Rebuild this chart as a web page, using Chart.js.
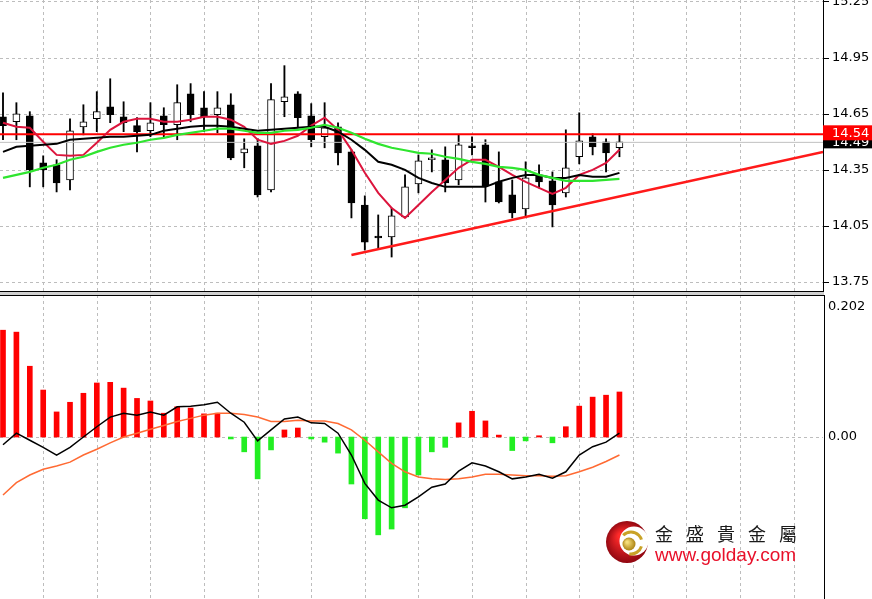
<!DOCTYPE html>
<html>
<head>
<meta charset="utf-8">
<script src="https://cdn.jsdelivr.net/npm/chart.js@4.4.0/dist/chart.umd.min.js"></script>
<style>
  body { margin: 0; background: #fff; width: 872px; height: 599px; overflow: hidden; position: relative; }
  #price-chart { position: absolute; left: 0; top: 0; }
  #macd-chart { position: absolute; left: 0; top: 295px; }
  #split { position: absolute; left: 0; top: 292px; width: 824px; height: 3px; background: #cfcfcf; }
  #logo-cn { position: absolute; left: 655px; top: 522px; font-family: "Noto Sans CJK TC", sans-serif; font-size: 18px; line-height: 22px; letter-spacing: 13px; color: #1a1a1a; white-space: nowrap; }
  #logo-url { position: absolute; left: 655px; top: 545px; font-family: "Liberation Sans", Arial, sans-serif; font-size: 19px; line-height: 20px; color: #e8102a; white-space: nowrap; }
</style>
</head>
<body>
<canvas id="price-chart" width="872" height="292"></canvas>
<div id="split"></div>
<canvas id="macd-chart" width="872" height="304"></canvas>
<div id="logo-cn">金盛貴金屬</div>
<div id="logo-url">www.golday.com</div>
<script>
// candles, oldest first
const opens  = [14.634, 14.607, 14.639, 14.388, 14.377, 14.296, 14.580, 14.623, 14.687, 14.634, 14.586, 14.559, 14.639, 14.591, 14.757, 14.682, 14.645, 14.698, 14.441, 14.479, 14.243, 14.714, 14.757, 14.639, 14.527, 14.580, 14.446, 14.162, 13.996, 13.991, 14.098, 14.275, 14.404, 14.404, 14.296, 14.479, 14.484, 14.286, 14.216, 14.141, 14.318, 14.291, 14.227, 14.420, 14.527, 14.500, 14.468];
const highs  = [14.762, 14.709, 14.661, 14.425, 14.404, 14.623, 14.698, 14.768, 14.837, 14.714, 14.629, 14.709, 14.682, 14.805, 14.811, 14.768, 14.768, 14.757, 14.516, 14.516, 14.811, 14.907, 14.768, 14.704, 14.709, 14.602, 14.457, 14.211, 14.109, 14.146, 14.323, 14.430, 14.457, 14.473, 14.537, 14.527, 14.511, 14.446, 14.296, 14.393, 14.377, 14.339, 14.564, 14.655, 14.543, 14.516, 14.543];
const lows   = [14.511, 14.511, 14.259, 14.259, 14.232, 14.243, 14.537, 14.554, 14.602, 14.554, 14.446, 14.527, 14.527, 14.511, 14.607, 14.554, 14.548, 14.404, 14.361, 14.205, 14.232, 14.634, 14.575, 14.473, 14.468, 14.377, 14.093, 13.921, 13.932, 13.884, 14.093, 14.227, 14.339, 14.232, 14.270, 14.430, 14.178, 14.173, 14.093, 14.098, 14.254, 14.045, 14.205, 14.382, 14.430, 14.339, 14.420];
const closes = [14.586, 14.650, 14.350, 14.350, 14.280, 14.559, 14.607, 14.661, 14.645, 14.602, 14.554, 14.602, 14.591, 14.709, 14.645, 14.634, 14.682, 14.414, 14.462, 14.216, 14.725, 14.741, 14.629, 14.511, 14.575, 14.441, 14.173, 13.964, 13.986, 14.104, 14.259, 14.398, 14.414, 14.280, 14.484, 14.468, 14.264, 14.178, 14.120, 14.307, 14.286, 14.162, 14.361, 14.505, 14.473, 14.441, 14.500];

// moving averages
const maFast = [14.602, 14.580, 14.575, 14.500, 14.430, 14.425, 14.430, 14.495, 14.564, 14.607, 14.623, 14.623, 14.607, 14.607, 14.618, 14.634, 14.634, 14.618, 14.580, 14.511, 14.489, 14.505, 14.532, 14.586, 14.629, 14.564, 14.457, 14.334, 14.227, 14.146, 14.093, 14.162, 14.232, 14.296, 14.361, 14.404, 14.404, 14.366, 14.323, 14.286, 14.254, 14.221, 14.254, 14.323, 14.350, 14.387, 14.457];
const maMid  = [14.446, 14.473, 14.479, 14.484, 14.489, 14.511, 14.516, 14.521, 14.527, 14.527, 14.532, 14.537, 14.559, 14.570, 14.580, 14.586, 14.586, 14.580, 14.570, 14.559, 14.564, 14.570, 14.575, 14.580, 14.580, 14.554, 14.511, 14.457, 14.393, 14.377, 14.350, 14.307, 14.280, 14.259, 14.259, 14.259, 14.259, 14.286, 14.307, 14.323, 14.323, 14.307, 14.307, 14.323, 14.313, 14.313, 14.334];
const maSlow = [14.307, 14.323, 14.339, 14.361, 14.377, 14.404, 14.420, 14.446, 14.468, 14.484, 14.495, 14.511, 14.521, 14.537, 14.548, 14.559, 14.570, 14.570, 14.559, 14.548, 14.548, 14.559, 14.564, 14.575, 14.591, 14.575, 14.548, 14.516, 14.489, 14.468, 14.455, 14.441, 14.436, 14.420, 14.409, 14.393, 14.382, 14.366, 14.361, 14.350, 14.323, 14.307, 14.291, 14.291, 14.291, 14.296, 14.302];

// macd panel
const macdHist   = [0.166, 0.163, 0.110, 0.073, 0.039, 0.054, 0.068, 0.084, 0.085, 0.076, 0.060, 0.056, 0.037, 0.047, 0.045, 0.036, 0.037, -0.003, -0.023, -0.065, -0.020, 0.011, 0.014, -0.003, -0.008, -0.025, -0.073, -0.127, -0.152, -0.143, -0.110, -0.059, -0.023, -0.016, 0.022, 0.040, 0.025, 0.003, -0.021, -0.006, 0.002, -0.009, 0.016, 0.048, 0.062, 0.065, 0.070];
const macdLine   = [-0.012, 0.006, -0.005, -0.016, -0.028, -0.016, 0.000, 0.016, 0.031, 0.037, 0.034, 0.039, 0.034, 0.047, 0.048, 0.050, 0.054, 0.037, 0.023, -0.006, 0.011, 0.028, 0.031, 0.022, 0.021, 0.006, -0.028, -0.072, -0.098, -0.110, -0.106, -0.093, -0.078, -0.073, -0.053, -0.040, -0.045, -0.054, -0.065, -0.062, -0.058, -0.064, -0.054, -0.028, -0.015, -0.008, 0.006];
const signalLine = [-0.090, -0.071, -0.059, -0.050, -0.045, -0.039, -0.028, -0.019, -0.009, 0.000, 0.006, 0.012, 0.018, 0.024, 0.029, 0.034, 0.037, 0.037, 0.035, 0.031, 0.024, 0.024, 0.026, 0.025, 0.025, 0.021, 0.011, -0.005, -0.023, -0.041, -0.054, -0.062, -0.065, -0.066, -0.065, -0.062, -0.058, -0.058, -0.059, -0.060, -0.060, -0.061, -0.060, -0.054, -0.047, -0.038, -0.028];

// levels
const resistance = 14.54;
const bidPrice = 14.497;
const bidLabel = '14.49';
const trendFrom = [26, 13.895];
const trendTo = [61.19, 14.446];

// axes
const priceTicks = [13.75, 14.05, 14.35, 14.65, 14.95, 15.25];
const priceTickLabels = ['13.75', '14.05', '14.35', '14.65', '14.95', '15.25'];
const macdTicks = [0, 0.202];
const macdTickLabels = ['0.00', '0.202'];
const macdGridRows = [0];
const gridSlots = [3, 7, 11, 15, 19, 23, 27, 31, 35, 39, 43, 47, 51, 55, 59];

const xMin = -0.224, xMax = 61.19;
const priceMin = 13.697, priceMax = 15.258;
const macdMin = -0.2517, macdMax = 0.2207;

const gridColor = '#bdbdbd';
const axisFont = { family: 'DejaVu Sans', size: 13 };

const pts = arr => arr.map((v, i) => ({ x: i, y: v }));
const bull = opens.map((o, i) => closes[i] >= o);

function xScale() {
    return {
        type: 'linear', min: xMin, max: xMax, offset: false,
        ticks: { display: false },
        grid: { display: false, drawTicks: false },
        border: { display: false },
        afterBuildTicks: s => { s.ticks = gridSlots.map(v => ({ value: v })); },
        afterFit: s => { s.height = 0; }
    };
}

function yScale(min, max, ticks, labels, pad) {
    return {
        position: 'right', min, max,
        afterBuildTicks: s => { s.ticks = ticks.map(v => ({ value: v })); },
        ticks: { callback: (v, i) => labels[i], color: '#000', font: axisFont, padding: pad, autoSkip: false },
        grid: { display: false, drawTicks: false },
        border: { display: false },
        afterFit: s => { s.width = 49; s.paddingTop = 0; s.paddingBottom = 0; }
    };
}

function lineSet(data, color, width) {
    return { type: 'line', data, borderColor: color, borderWidth: width, pointRadius: 0, tension: 0, order: 0 };
}

// dashed MT4 style grid, drawn from the scales' own ticks
const dashGrid = {
    id: 'dashGrid',
    beforeDatasetsDraw(chart, args, opts) {
        const { ctx, chartArea: a, scales: { x, y } } = chart;
        ctx.save();
        ctx.strokeStyle = gridColor;
        ctx.lineWidth = 1;
        ctx.setLineDash([3, 3]);
        ctx.beginPath();
        x.ticks.forEach(t => {
            const px = Math.round(x.getPixelForValue(t.value)) + 0.5;
            ctx.moveTo(px, a.top);
            ctx.lineTo(px, a.bottom);
        });
        y.ticks.filter(t => opts.rows.includes(t.value)).forEach(t => {
            const py = Math.round(y.getPixelForValue(t.value)) + 0.5;
            ctx.moveTo(a.left, py);
            ctx.lineTo(a.right, py);
        });
        ctx.stroke();
        if (opts.tickMarks) {
            ctx.setLineDash([]);
            ctx.strokeStyle = '#000';
            ctx.beginPath();
            y.ticks.forEach(t => {
                const py = Math.round(y.getPixelForValue(t.value)) + 0.5;
                ctx.moveTo(a.right, py);
                ctx.lineTo(a.right + 6, py);
            });
            ctx.stroke();
        }
        ctx.restore();
    }
};

function tag(ctx, y, text, fill, h) {
    ctx.fillStyle = fill;
    ctx.fillRect(823, y - h / 2, 49, h);
    ctx.fillStyle = '#fff';
    ctx.font = '13px "DejaVu Sans"';
    ctx.textBaseline = 'middle';
    ctx.fillText(text, 832, y + 0.5);
}

const priceFrame = {
    id: 'priceFrame',
    afterDraw(chart) {
        const { ctx, chartArea, scales } = chart;
        ctx.save();
        ctx.strokeStyle = '#000';
        ctx.lineWidth = 1;
        ctx.beginPath();
        ctx.moveTo(chartArea.right + 0.5, 0);
        ctx.lineTo(chartArea.right + 0.5, chartArea.bottom);
        ctx.moveTo(0, chartArea.bottom - 0.5);
        ctx.lineTo(chartArea.right + 1, chartArea.bottom - 0.5);
        ctx.stroke();
        tag(ctx, scales.y.getPixelForValue(bidPrice), bidLabel, '#000', 12);
        tag(ctx, scales.y.getPixelForValue(resistance) - 1.5, resistance.toFixed(2), '#ff0000', 15);
        ctx.restore();
    }
};

const macdFrame = {
    id: 'macdFrame',
    afterDraw(chart) {
        const { ctx, chartArea } = chart;
        ctx.save();
        ctx.strokeStyle = '#000';
        ctx.lineWidth = 1;
        ctx.beginPath();
        ctx.moveTo(0, 0.5);
        ctx.lineTo(chartArea.right + 1.5, 0.5);
        ctx.moveTo(chartArea.right + 1.5, 0);
        ctx.lineTo(chartArea.right + 1.5, chartArea.bottom);
        ctx.stroke();

        // golday logo mark
        const cx = 627, cy = 247;
        let g = ctx.createRadialGradient(cx - 6, cy - 6, 3, cx, cy, 22);
        g.addColorStop(0, '#ff2a2a');
        g.addColorStop(1, '#8c0610');
        ctx.fillStyle = g;
        ctx.beginPath(); ctx.arc(cx, cy, 21, 0, Math.PI * 2); ctx.fill();
        ctx.fillStyle = '#fff';
        ctx.beginPath(); ctx.arc(cx + 7, cy - 1, 14.5, 0, Math.PI * 2); ctx.fill();
        ctx.strokeStyle = '#c9a227';
        ctx.lineWidth = 3;
        ctx.beginPath(); ctx.arc(cx + 4, cy + 1, 11, -Math.PI * 0.75, -Math.PI * 0.1); ctx.stroke();
        ctx.beginPath(); ctx.arc(cx + 4, cy + 1, 11, Math.PI * 0.1, Math.PI * 0.55); ctx.stroke();
        g = ctx.createRadialGradient(cx, cy, 1, cx + 2, cy + 2, 7);
        g.addColorStop(0, '#f6df7a');
        g.addColorStop(1, '#a67c0c');
        ctx.fillStyle = g;
        ctx.beginPath(); ctx.arc(cx + 2, cy + 2, 6.5, 0, Math.PI * 2); ctx.fill();
        ctx.restore();
    }
};

new Chart(document.getElementById('price-chart'), {
    type: 'bar',
    data: {
        datasets: [
            lineSet(pts(maSlow), '#2fe52f', 2.2),
            lineSet(pts(maMid), '#000', 2),
            lineSet(pts(maFast), '#dc143c', 2),
            lineSet([{ x: xMin, y: bidPrice }, { x: xMax, y: bidPrice }], '#c0c0c0', 1),
            lineSet([{ x: xMin, y: resistance }, { x: xMax, y: resistance }], '#ff0000', 2),
            lineSet([{ x: trendFrom[0], y: trendFrom[1] }, { x: trendTo[0], y: trendTo[1] }], '#ff1a1a', 2.5),
            {
                label: 'body',
                data: opens.map((o, i) => ({ x: i, y: [o, closes[i]] })),
                backgroundColor: bull.map(b => b ? '#fff' : '#000'),
                borderColor: '#000',
                borderWidth: 1,
                borderSkipped: false,
                barThickness: 7,
                grouped: false,
                order: 1
            },
            {
                label: 'wick',
                data: lows.map((l, i) => ({ x: i, y: [l, highs[i]] })),
                backgroundColor: '#000',
                borderWidth: 0,
                barThickness: 1.2,
                grouped: false,
                order: 2
            }
        ]
    },
    options: {
        responsive: false,
        animation: false,
        devicePixelRatio: 1,
        layout: { padding: 0 },
        plugins: {
            legend: { display: false },
            tooltip: { enabled: false },
            dashGrid: { rows: priceTicks, tickMarks: true }
        },
        scales: {
            x: xScale(),
            y: yScale(priceMin, priceMax, priceTicks, priceTickLabels, 9)
        }
    },
    plugins: [dashGrid, priceFrame]
});

new Chart(document.getElementById('macd-chart'), {
    type: 'bar',
    data: {
        datasets: [
            lineSet(pts(macdLine), '#000', 1.5),
            lineSet(pts(signalLine), '#ff6a33', 1.5),
            {
                label: 'hist',
                data: pts(macdHist),
                backgroundColor: macdHist.map(v => v >= 0 ? '#ff0000' : '#22ee22'),
                borderWidth: 0,
                barThickness: 5,
                grouped: false,
                order: 1
            }
        ]
    },
    options: {
        responsive: false,
        animation: false,
        devicePixelRatio: 1,
        layout: { padding: 0 },
        plugins: {
            legend: { display: false },
            tooltip: { enabled: false },
            dashGrid: { rows: macdGridRows, tickMarks: false }
        },
        scales: {
            x: xScale(),
            y: yScale(macdMin, macdMax, macdTicks, macdTickLabels, 5)
        }
    },
    plugins: [dashGrid, macdFrame]
});
</script>
</body>
</html>
